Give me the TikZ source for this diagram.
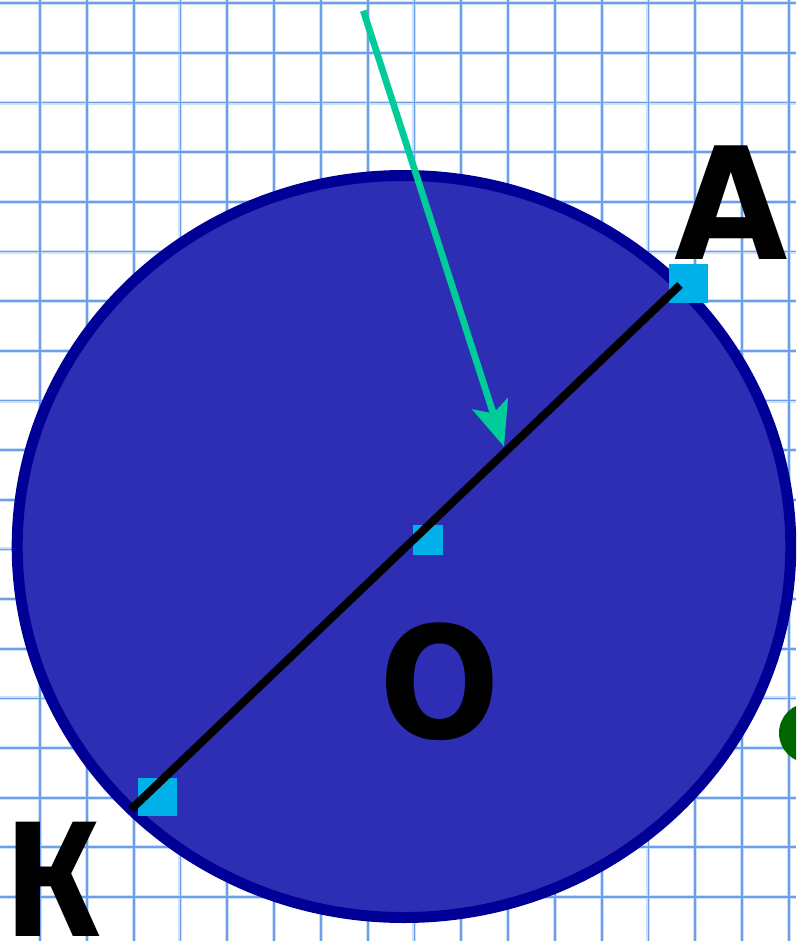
\documentclass[tikz,border=0pt]{standalone}
\usepackage{fontspec}
\setmainfont{DejaVu Sans}
\newfontfamily\kafont{Fira Sans}
\usetikzlibrary{arrows.meta}
\definecolor{gridblue}{RGB}{108,158,234}
\definecolor{gridhalo}{RGB}{205,225,249}
\definecolor{discfill}{RGB}{46,46,180}
\definecolor{discborder}{RGB}{0,0,150}
\definecolor{ptcyan}{RGB}{0,176,232}
\definecolor{arrowgreen}{RGB}{0,204,153}
\definecolor{dotgreen}{RGB}{0,102,0}
\begin{document}
\begin{tikzpicture}[x=1pt,y=-1pt,
  gridhaloline/.style={draw=gridhalo, line width=4pt},
  gridline/.style={draw=gridblue, line width=1.8pt},
  disc/.style={fill=discfill, draw=discborder, line width=11pt},
  ptsq/.style={fill=ptcyan, draw=none, inner sep=0pt, minimum size=#1},
  letter/.style={inner sep=0pt, text=black, font=\bfseries\fontsize{156}{156}\selectfont},
  kaletter/.style={inner sep=0pt, text=black, font=\kafont\bfseries\fontsize{165}{165}\selectfont},
  chord/.style={draw=black, line width=8pt},
  pointer/.style={draw=arrowgreen, line width=6.7pt,
    -{Stealth[length=45pt, width=37pt, inset=10pt]}},
  greendot/.style={fill=dotgreen, draw=none}]
\useasboundingbox (0,0) rectangle (796,941);
\begin{scope}
\clip (0,0) rectangle (796,941);
% grid
\foreach \k in {-1,...,16} \draw[gridhaloline] ({40+46.8*\k},0) -- ++(0,941);
\foreach \k in {0,...,18} \draw[gridhaloline] (0,{3.3+49.65*\k}) -- ++(796,0);
\foreach \k in {-1,...,16} \draw[gridline] ({40+46.8*\k},0) -- ++(0,941);
\foreach \k in {0,...,18} \draw[gridline] (0,{3.3+49.65*\k}) -- ++(796,0);
% disc
\path[disc] (404,546.5) ellipse [x radius=386.8pt, y radius=371pt];
% green dot at the right edge
\path[greendot] (809,733) circle [radius=30pt];
% point markers
\node[ptsq=38.6pt] (sqA) at (688.3,283.3) {};
\node[ptsq=29.6pt] (sqO) at (427.7,539.7) {};
\node[ptsq=38.6pt] (sqK) at (157.5,797) {};
% chord K--A
\coordinate (endK) at (131,809.5);
\coordinate (endA) at (680,285);
\draw[chord] (endK) -- (endA);
% green arrow
\coordinate (arrS) at (363.3,10.7);
\coordinate (arrT) at (504,446.7);
\draw[pointer] (arrS) -- (arrT);
% labels
\node[letter, anchor=base] (labA) at (731.7,259.3) {\scalebox{0.94}[1]{A}};
\node[letter, anchor=base] (labO) at (440,738) {\scalebox{0.91}[1]{O}};
\node[kaletter, anchor=base] (labK) at (53,936) {\scalebox{0.9}[1]{К}};
\end{scope}
\end{tikzpicture}
\end{document}
